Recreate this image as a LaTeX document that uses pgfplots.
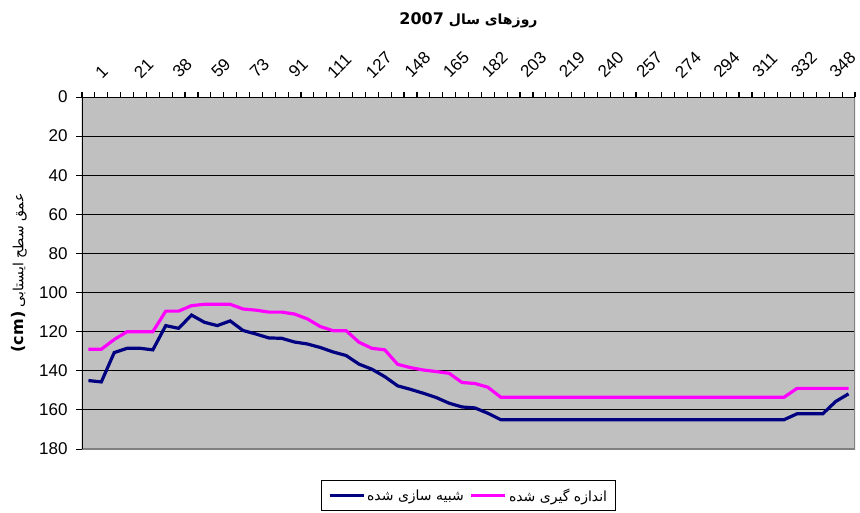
\documentclass[border=0pt]{standalone}
\usepackage{pgfplots}
\pgfplotsset{compat=1.18}
\usepackage{fontspec}
\setmainfont{Liberation Sans}
\newfontfamily\arabicfont[Script=Arabic]{DejaVu Sans}
\TeXXeTstate=1
\definecolor{navyc}{RGB}{0,0,128}
\definecolor{magc}{RGB}{255,0,255}
\definecolor{plotbg}{RGB}{192,192,192}
\definecolor{bordgray}{RGB}{128,128,128}
\begin{document}
\begin{tikzpicture}
\begin{axis}[
  scale only axis, width=773bp, height=352bp,
  xmin=-0.5, xmax=59.5, ymin=0, ymax=180, y dir=reverse,
  /pgf/number format/assume math mode=true,
  axis background/.style={fill=plotbg},
  axis line style={draw=none},
  xtick={0,3,...,57},
  xticklabels={1,21,38,59,73,91,111,127,148,165,182,203,219,240,257,274,294,311,332,348},
  minor xtick={-0.5,0.5,...,59.5},
  ytick={0,20,...,180},
  xtick pos=right, ytick pos=left,
  xticklabel pos=right,
  tick align=outside,
  major tick length=6bp, minor tick length=5bp,
  major x tick style={draw=none},
  minor x tick style={black, line width=1.2bp},
  major y tick style={black, line width=1bp},
  ymajorgrids, grid style={black, line width=0.9bp},
  tick label style={font=\fontsize{17bp}{19bp}\selectfont},
  xticklabel style={inner sep=0.5bp, xshift=14bp, yshift=11bp, rotate=45, anchor=south west},
  yticklabel style={xshift=-5bp},
  title={{\arabicfont\bfseries\fontsize{14bp}{18bp}\selectfont\beginR روزهای سال \beginL\fontsize{16bp}{18bp}\selectfont 2007\endL\endR}},
  title style={at={(axis description cs:0.5,1)}, anchor=center, yshift=71bp},
  ylabel={\arabicfont\fontsize{14bp}{17bp}\selectfont\beginR عمق سطح ایستابی \beginL\bfseries\fontsize{16bp}{18bp}\selectfont (cm)\endL\endR},
  ylabel style={at={(axis description cs:-0.0815,0.5)}, anchor=center},
  legend columns=2,
  legend style={at={(axis description cs:0.5,-0.088)}, anchor=north, draw=black, line width=1bp, fill=white,
    font=\arabicfont\fontsize{14bp}{17bp}\selectfont, inner xsep=6bp, inner ysep=6bp,
    /tikz/every even column/.append style={column sep=4bp}},
  legend image code/.code={\draw[#1] (0bp,0bp) -- (34bp,0bp);},
]
\addplot[navyc, line width=3.2bp] table {
x y
0 145
1 145.7
2 130.7
3 128.5
4 128.5
5 129.3
6 116.9
7 118.3
8 111.5
9 115.2
10 116.9
11 114.5
12 119.4
13 121.2
14 123.2
15 123.4
16 125.3
17 126.3
18 128.1
19 130.4
20 132.2
21 136.6
22 139.2
23 143
24 147.7
25 149.5
26 151.5
27 153.7
28 156.6
29 158.5
30 159
31 161.7
32 165
33 165
34 165
35 165
36 165
37 165
38 165
39 165
40 165
41 165
42 165
43 165
44 165
45 165
46 165
47 165
48 165
49 165
50 165
51 165
52 165
53 165
54 165
55 162
56 162
57 162
58 155.7
59 151.8
};
\addlegendentry{\beginR شبیه سازی شده\endR}
\addplot[magc, line width=3.2bp] table {
x y
0 129
1 129
2 124
3 120
4 120
5 120
6 109.5
7 109.5
8 106.7
9 106
10 106
11 106
12 108.4
13 109
14 110
15 110
16 111
17 113.5
18 117.4
19 119.5
20 119.5
21 125.4
22 128.5
23 129.3
24 136.7
25 138.4
26 139.6
27 140.4
28 141.3
29 146
30 146.5
31 148.4
32 153.5
33 153.5
34 153.5
35 153.5
36 153.5
37 153.5
38 153.5
39 153.5
40 153.5
41 153.5
42 153.5
43 153.5
44 153.5
45 153.5
46 153.5
47 153.5
48 153.5
49 153.5
50 153.5
51 153.5
52 153.5
53 153.5
54 153.5
55 149
56 149
57 149
58 149
59 149
};
\addlegendentry{\beginR اندازه گیری شده\endR}
\draw[bordgray, line width=2bp] (axis cs:59.5,0) -- (axis cs:59.5,180) -- (axis cs:-0.5,180);
\draw[black, line width=2bp] (axis cs:-0.5,180) -- (axis cs:-0.5,0) -- (axis cs:59.5,0);
\coordinate (tl) at (axis cs:-0.5,0);
\end{axis}
\pgfresetboundingbox
\path (tl) ++(-82bp,97bp) rectangle ++(860bp,-513bp);
\end{tikzpicture}
\end{document}
